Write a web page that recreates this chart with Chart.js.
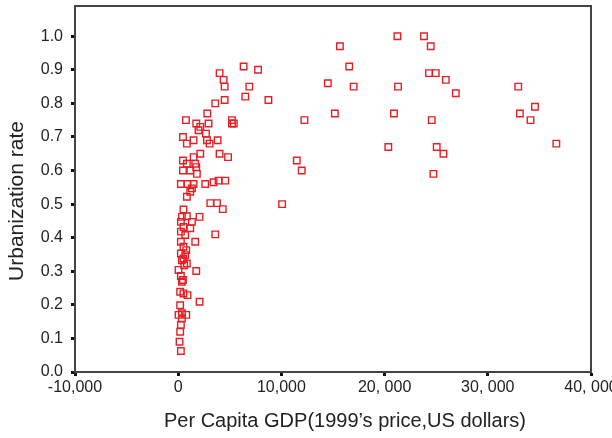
<!DOCTYPE html>
<html>
<head>
    <title>Urbanization rate vs Per Capita GDP</title>
    <script src="https://cdn.jsdelivr.net/npm/chart.js"></script>
    <style>
        body { margin: 0; background: #fff; }
        #wrap { width: 612px; height: 438px; }
    </style>
</head>
<body>
    <div id="wrap"><canvas id="scatterChart" width="612" height="438"></canvas></div>

    <script>
        // GDP per capita (1999 US$) and urbanization rate
        const gdp = [
            6340, 7740, 4010, 4400, 4500, 6890, 6500, 4500, 8740, 3590,
            2820, 750, 5210, 5210, 5390, 1750, 2140, 2940, 1970, 2690,
            460, 1490, 840, 2790, 3040, 3820,
            4010, 4830, 460, 1490, 2140, 840, 1650, 1750, 460, 1170,
            1810, 260, 900, 1490, 2620, 3430, 3910, 4560, 1330, 1170,
            840, 3110, 3760, 4320, 510, 360, 840, 2070, 260, 1330,
            510, 1170, 260, 3590, 680, 1650, 260, 510, 780, 260,
            680, 510, 360, 840, 580, 30, 1750, 260, 460, 360,
            190, 510, 900, 2070, 190, 30, 360, 780, 360, 260,
            190, 130, 260,
            21240, 23820, 24470, 15670, 16570, 14500, 17000, 21300, 24300, 24960,
            25930, 15180, 20910, 12230, 24570, 20360, 25050, 25700, 11490, 11970,
            24730, 10070, 26900, 32950, 34570, 33110, 34140, 36640
        ];
        const urban = [
            0.91, 0.90, 0.89, 0.87, 0.85, 0.85, 0.82, 0.81, 0.81, 0.80,
            0.77, 0.75, 0.75, 0.74, 0.74, 0.74, 0.73, 0.74, 0.72, 0.71,
            0.70, 0.69, 0.68, 0.69, 0.68, 0.69,
            0.65, 0.64, 0.63, 0.64, 0.65, 0.62, 0.62, 0.61, 0.60, 0.60,
            0.59, 0.56, 0.56, 0.56, 0.56, 0.565, 0.57, 0.57, 0.547, 0.537,
            0.522, 0.503, 0.503, 0.485, 0.484, 0.462, 0.464, 0.462, 0.447, 0.447,
            0.432, 0.428, 0.418, 0.41, 0.408, 0.388, 0.388, 0.373, 0.363, 0.353,
            0.348, 0.338, 0.333, 0.323, 0.318, 0.304, 0.301, 0.286, 0.274, 0.269,
            0.239, 0.234, 0.229, 0.209, 0.199, 0.17, 0.175, 0.17, 0.16, 0.14,
            0.12, 0.09, 0.0625,
            1.0, 1.0, 0.97, 0.97, 0.91, 0.86, 0.85, 0.85, 0.89, 0.89,
            0.87, 0.77, 0.77, 0.75, 0.75, 0.67, 0.67, 0.65, 0.63, 0.60,
            0.59, 0.50, 0.83, 0.85, 0.79, 0.77, 0.75, 0.68
        ];

        // axis ticks and titles
        const xTicks = [-10000, 0, 10000, 20000, 30000, 40000];
        const xTickLabels = ['-10,000', '0', '10,000', '20, 000', '30, 000', '40, 000'];
        const yTicks = [0, 0.1, 0.2, 0.3, 0.4, 0.5, 0.6, 0.7, 0.8, 0.9, 1.0];
        const xTitle = 'Per Capita GDP(1999\u2019s price,US dollars)';
        const yTitle = 'Urbanization rate';

        const points = gdp.map((g, i) => ({ x: g, y: urban[i] }));

        // box around the plot area + the two axis titles
        const frame = {
            id: 'frame',
            afterDatasetsDraw(chart) {
                const a = chart.chartArea;
                const c = chart.ctx;
                c.save();
                c.strokeStyle = '#444';
                c.lineWidth = 2;
                c.strokeRect(a.left, a.top, a.right - a.left, a.bottom - a.top);

                c.fillStyle = '#222';
                c.font = '20px "Liberation Sans"';
                c.textAlign = 'center';
                c.textBaseline = 'middle';
                c.fillText(xTitle, 345, 421);

                c.translate(17, 201);
                c.rotate(-Math.PI / 2);
                c.font = '21px "Liberation Sans"';
                c.fillText(yTitle, 0, 0);
                c.restore();
            }
        };

        const ctx = document.getElementById('scatterChart').getContext('2d');
        new Chart(ctx, {
            type: 'scatter',
            data: {
                datasets: [{
                    data: points,
                    pointStyle: 'rect',
                    pointRadius: 4.6,
                    pointBorderWidth: 1.4,
                    pointBorderColor: 'rgb(232, 30, 36)',
                    pointBackgroundColor: 'rgba(255,255,255,0)'
                }]
            },
            options: {
                responsive: false,
                animation: false,
                events: [],
                layout: { padding: { top: 6, right: 21, left: 0, bottom: 0 } },
                plugins: {
                    legend: { display: false },
                    tooltip: { enabled: false }
                },
                scales: {
                    x: {
                        type: 'linear',
                        min: -10000,
                        max: 40000,
                        afterBuildTicks: (s) => { s.ticks = xTicks.map(v => ({ value: v })); },
                        afterFit: (s) => { s.height = 66; s.paddingLeft = 0; s.paddingRight = 0; },
                        ticks: {
                            callback: (v) => xTickLabels[xTicks.indexOf(v)],
                            color: '#222',
                            font: { family: 'Liberation Sans', size: 16 },
                            padding: 2,
                            maxRotation: 0,
                            autoSkip: false
                        },
                        grid: {
                            drawOnChartArea: false,
                            tickLength: 4,
                            tickWidth: 3,
                            tickColor: '#111'
                        },
                        border: { color: '#444', width: 2 }
                    },
                    y: {
                        type: 'linear',
                        min: 0,
                        max: 1.09,
                        afterBuildTicks: (s) => { s.ticks = yTicks.map(v => ({ value: v })); },
                        afterFit: (s) => { s.width = 75; s.paddingTop = 0; s.paddingBottom = 0; },
                        ticks: {
                            callback: (v) => v.toFixed(1),
                            color: '#222',
                            font: { family: 'Liberation Sans', size: 16 },
                            padding: 8
                        },
                        grid: {
                            drawOnChartArea: false,
                            tickLength: 4,
                            tickWidth: 3,
                            tickColor: '#111'
                        },
                        border: { color: '#444', width: 2 }
                    }
                }
            },
            plugins: [frame]
        });
    </script>
</body>
</html>
